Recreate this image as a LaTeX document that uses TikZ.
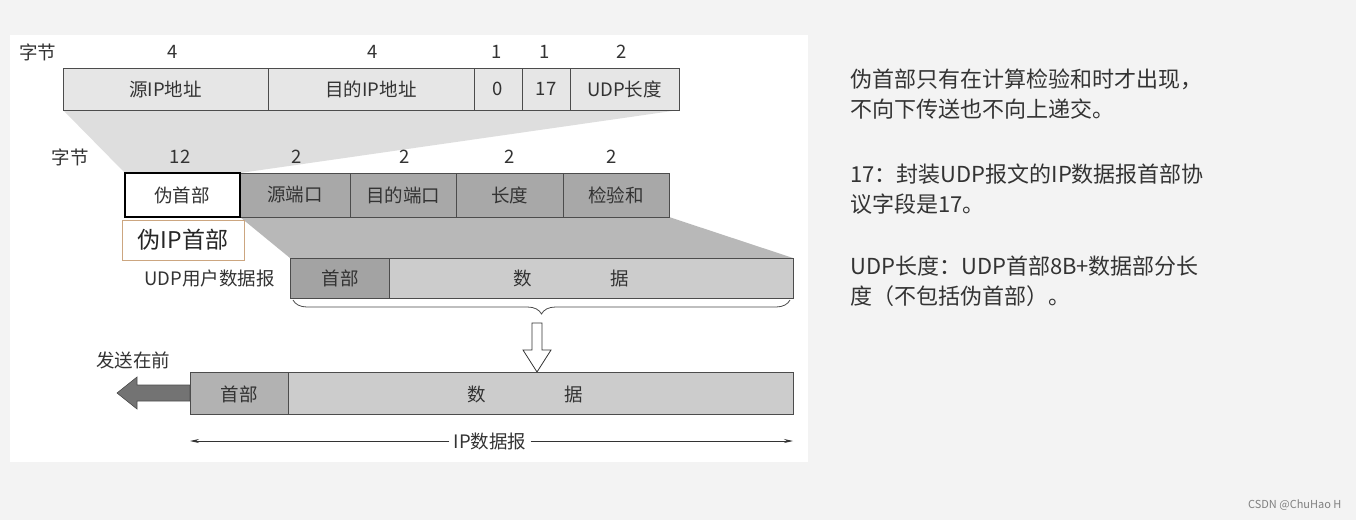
\documentclass[tikz,border=0pt]{standalone}
\usepackage{fontspec}
\setmainfont{Liberation Serif}
\newfontfamily\cjk{Noto Sans CJK SC}
\usetikzlibrary{decorations.pathreplacing,arrows.meta}
\definecolor{bgc}{HTML}{F3F3F3}
\definecolor{rowa}{HTML}{E6E6E6}
\definecolor{rowb}{HTML}{A8A8A8}
\definecolor{rowc}{HTML}{CCCCCC}
\definecolor{hdr}{HTML}{A3A3A3}
\definecolor{txt}{HTML}{333333}
\begin{document}
\begin{tikzpicture}[x=1pt,y=-1pt,
  cell/.style={draw=black!70,line width=0.8pt},
  lab/.style={font=\cjk\fontsize{18.5}{20}\selectfont,text=black!80,inner sep=0pt},
  note/.style={font=\cjk\fontsize{22}{30}\selectfont,text=txt,anchor=north west,inner sep=0pt,align=left}]
\fill[bgc] (0,0) rectangle (1356,520);
\useasboundingbox (0,0) rectangle (1356,520);
\fill[white] (10,35) rectangle (808,462);
% trapezoids
\fill[black!13] (63,110) -- (679,110) -- (240,173) -- (125,173) -- cycle;
\fill[black!28] (240,217) -- (669,217) -- (793,258) -- (290,258) -- cycle;
% top row
\foreach \a/\b/\t in {63/268/源IP地址,268/474/目的IP地址,474/522/0,522/570/17,570/679/UDP长度}{
  \draw[cell,fill=rowa] (\a,68) rectangle (\b,110);
  \node[lab] at ({(\a+\b)/2},89) {\t};}
\node[lab] at (38,52) {字节};
\foreach \x/\t in {173/4,373/4,497/1,545/1,622/2} \node[lab] at (\x,52) {\t};
% middle row
\foreach \a/\b/\t in {240/350/源端口,350/456/目的端口,456/563/长度,563/669/检验和}{
  \draw[cell,fill=rowb] (\a,173) rectangle (\b,217);
  \node[lab] at ({(\a+\b)/2},195) {\t};}
\draw[line width=2.5pt,fill=white] (125,173) rectangle (240,217);
\node[lab] (ph) at (182,195) {伪首部};
\node[lab] at (70,157) {字节};
\foreach \x/\t in {180/12,297/2,405/2,510/2,612/2} \node[lab] at (\x,157) {\t};
\node[draw=orange!60!black!50,line width=0.6pt,fill=white,minimum width=122pt,minimum height=40pt,
  font=\cjk\fontsize{23}{24}\selectfont,text=black!85] (pip) at (183,240) {伪IP首部};
% UDP row
\draw[cell,fill=rowc] (389,258) rectangle (793,298);
\draw[cell,fill=hdr] (290,258) rectangle (389,298);
\node[lab] at (340,278) {首部};
\node[lab] at (523,278) {数};
\node[lab] at (620,278) {据};
\node[lab,anchor=east] at (275,278) {UDP用户数据报};
\draw[black!70,line width=0.8pt,decorate,decoration={brace,mirror,amplitude=14pt}] (293,300) -- (790,300);
% hollow arrow
\draw[black!80,line width=0.8pt,fill=white] (532,323) -- (542,323) -- (542,350) -- (551,350) -- (537,372) -- (523,350) -- (532,350) -- cycle;
% bottom row
\draw[cell,fill=rowc] (288,372) rectangle (793,414);
\draw[cell,fill=black!30] (190,372) rectangle (288,414);
\node[lab] at (239,394) {首部};
\node[lab] at (477,394) {数};
\node[lab] at (574,394) {据};
\node[lab] at (133,360) {发送在前};
\draw[black!70,line width=0.6pt,fill=black!55] (190,385) -- (137,385) -- (137,377) -- (117,393) -- (137,409) -- (137,401) -- (190,401) -- cycle;
% dimension
\node[lab,fill=white,inner sep=4pt] (ipd) at (490,441) {IP数据报};
\coordinate (dl) at (190,441); \coordinate (dr) at (793,441);
\draw[black!80,line width=0.8pt,-{Stealth[length=9pt,width=4pt]}] (ipd.west) -- (dl);
\draw[black!80,line width=0.8pt,-{Stealth[length=9pt,width=4pt]}] (ipd.east) -- (dr);
% notes
\node[note] at (850,69) {伪首部只有在计算检验和时才出现，\\不向下传送也不向上递交。};
\node[note] at (850,164) {17：封装UDP报文的IP数据报首部协\\议字段是17。};
\node[note] at (850,256) {UDP长度：UDP首部8B+数据部分长\\度（不包括伪首部）。};
\node[font=\cjk\fontsize{11}{12}\selectfont,text=black!50,anchor=east] at (1345,505) {CSDN @ChuHao H};
\end{tikzpicture}
\end{document}
